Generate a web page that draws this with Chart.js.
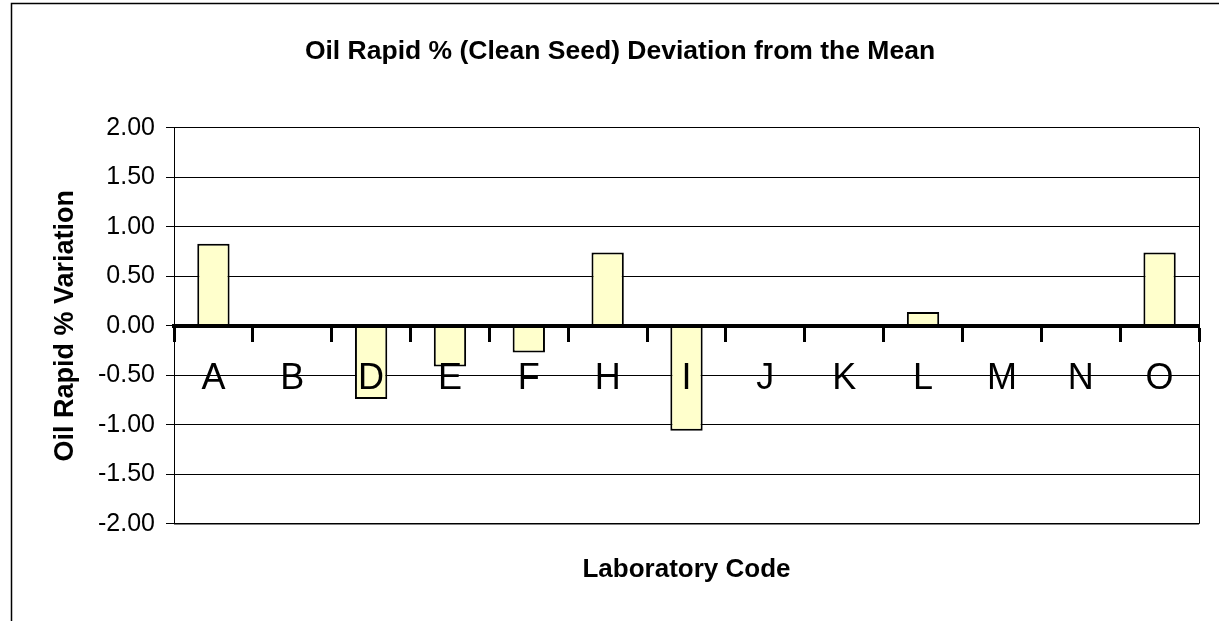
<!DOCTYPE html>
<html>
<head>
<meta charset="utf-8">
<script src="https://cdn.jsdelivr.net/npm/chart.js@4.4.0/dist/chart.umd.min.js"></script>
<style>
  body { margin: 0; background: #fff; }
  #div_grafico { width: 1219px; height: 621px; }
</style>
</head>
<body>
<div id="div_grafico">
  <canvas id="graf_desvio" width="1219" height="621"></canvas>
</div>
<script>
// codigos dos laboratorios (eixo x)
const labCodes = ["A", "B", "D", "E", "F", "H", "I", "J", "K", "L", "M", "N", "O"];
// desvio da media (%)
const desvios = [0.83, 0, -0.74, -0.41, -0.27, 0.74, -1.06, 0, 0, 0.14, 0, 0, 0.74];
// marcas do eixo y
const yMin = -2;
const yMax = 2;
const yStep = 0.5;

const fonte = "'Liberation Sans', Arial, sans-serif";

// moldura do grafico e da area de plotagem
const moldura = {
  id: "moldura",
  beforeDraw(chart) {
    const ctx = chart.ctx;
    ctx.save();
    ctx.strokeStyle = "#000";
    ctx.lineWidth = 1.5;
    ctx.beginPath();
    ctx.moveTo(11.5, 621);
    ctx.lineTo(11.5, 3.5);
    ctx.lineTo(1219, 3.5);
    ctx.stroke();
    ctx.restore();
  },
  afterDatasetsDraw(chart) {
    const a = chart.chartArea;
    const ctx = chart.ctx;
    ctx.save();
    ctx.strokeStyle = "#000";
    ctx.lineWidth = 1;
    ctx.beginPath();
    ctx.moveTo(a.right + 0.5, a.top);
    ctx.lineTo(a.right + 0.5, a.bottom);
    ctx.stroke();
    ctx.lineWidth = 1.5;
    ctx.beginPath();
    ctx.moveTo(a.left, a.bottom);
    ctx.lineTo(a.right, a.bottom);
    ctx.stroke();
    ctx.restore();
  }
};

const dados = {
  labels: labCodes,
  datasets: [{
    label: "Oil Rapid %",
    data: desvios,
    backgroundColor: "#FFFFCC",
    borderColor: "#000",
    borderWidth: 2,
    barPercentage: 0.41,
    categoryPercentage: 1.0,
    xAxisID: "x",
    yAxisID: "y"
  }]
};

const config = {
  type: "bar",
  data: dados,
  plugins: [moldura],
  options: {
    responsive: false,
    animation: false,
    layout: {
      padding: { left: 41, right: 20, top: 0, bottom: 0 }
    },
    plugins: {
      legend: { display: false },
      tooltip: { enabled: false },
      title: {
        display: true,
        text: "Oil Rapid % (Clean Seed) Deviation from the Mean",
        color: "#000",
        font: { family: fonte, size: 26.5, weight: "bold" },
        padding: { top: 36, bottom: 60 }
      }
    },
    scales: {
      y: {
        min: yMin,
        max: yMax,
        position: "left",
        afterFit: (s) => { s.width = 133; },
        ticks: {
          stepSize: yStep,
          color: "#000",
          font: { family: fonte, size: 25 },
          padding: 11,
          callback: (v) => v.toFixed(2)
        },
        grid: {
          color: "#000",
          lineWidth: 1,
          tickLength: 8,
          tickColor: "#000"
        },
        border: { color: "#000", width: 1 },
        title: {
          display: true,
          text: "Oil Rapid % Variation",
          color: "#000",
          font: { family: fonte, size: 27, weight: "bold" },
          padding: { top: 8, bottom: 0 }
        }
      },
      x: {
        type: "category",
        position: { y: 0 },
        offset: true,
        ticks: {
          z: 1, // rotulos por cima das barras
          color: "#000",
          font: { family: fonte, size: 36 },
          padding: 18,
          autoSkip: false,
          maxRotation: 0
        },
        grid: {
          z: 1,
          offset: true,
          drawOnChartArea: false,
          tickLength: 14,
          tickWidth: 3,
          tickColor: "#000"
        },
        border: { z: 1, color: "#000", width: 4 }
      },
      x2: {
        type: "linear",
        position: "bottom",
        ticks: { display: false },
        grid: { display: false, drawTicks: false },
        border: { display: false },
        title: {
          display: true,
          text: "Laboratory Code",
          color: "#000",
          font: { family: fonte, size: 26, weight: "bold" },
          padding: { top: 30, bottom: 36 }
        }
      }
    }
  }
};

const grafico = new Chart(document.getElementById("graf_desvio"), config);
</script>
</body>
</html>
